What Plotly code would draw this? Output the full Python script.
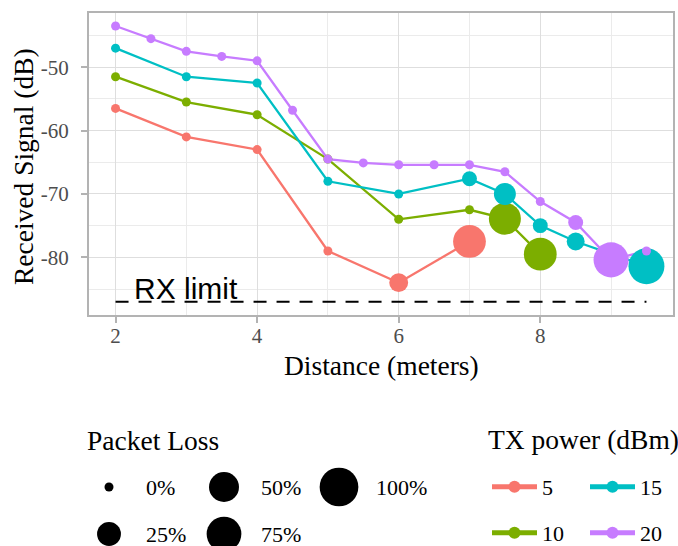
import numpy as np
import plotly.graph_objects as go

# ---------------- data ----------------
TX_LEVELS = ["5", "10", "15", "20"]
TX_COLORS = ["#F8766D", "#7CAE00", "#00BFC4", "#C77CFF"]

dist_5 = [2, 3, 4, 5, 6, 7]
sig_5 = [-56.5, -61, -63, -79, -84, -77.5]
loss_5 = [0, 0, 0, 0, 11, 64]

dist_10 = [2, 3, 4, 5, 6, 7, 7.5, 8]
sig_10 = [-51.5, -55.5, -57.5, -64.5, -74, -72.5, -73.9, -79.5]
loss_10 = [0, 0, 0, 0, 0, 0, 60, 64]

dist_15 = [2, 3, 4, 5, 6, 7, 7.5, 8, 8.5, 9.5]
sig_15 = [-47, -51.5, -52.5, -68, -70, -67.6, -70, -75, -77.5, -81.4]
loss_15 = [0, 0, 0, 0, 0, 4, 19, 4, 9, 82]

dist_20 = [2, 2.5, 3, 3.5, 4, 4.5, 5, 5.5, 6, 6.5, 7, 7.5, 8, 8.5, 9, 9.5]
sig_20 = [-43.5, -45.5, -47.5, -48.3, -49, -56.8, -64.5, -65.1, -65.4, -65.4,
          -65.4, -66.5, -71.2, -74.5, -80.4, -79]
loss_20 = [0, 0, 0, 0, 0, 0, 0, 0, 0, 0, 0, 0, 0, 4, 77, 0]

SERIES = [
    (dist_5, sig_5, loss_5),
    (dist_10, sig_10, loss_10),
    (dist_15, sig_15, loss_15),
    (dist_20, sig_20, loss_20),
]

LOSS_LEVELS = [0, 25, 50, 75, 100]
LOSS_LABELS = ["0%", "25%", "50%", "75%", "100%"]

RX_LIMIT = -87
RX_X = [2, 9.5]
RX_LABEL = "RX limit"
RX_LABEL_X = 3

X_TICKS = [2, 4, 6, 8]
X_TICK_LABELS = ["2", "4", "6", "8"]
Y_TICKS = [-80, -70, -60, -50]
Y_TICK_LABELS = ["-80", "-70", "-60", "-50"]

X_TITLE = "Distance (meters)"
Y_TITLE = "Received Signal (dB)"
SIZE_TITLE = "Packet Loss"
COLOR_TITLE = "TX power (dBm)"

# ---------------- layout constants ----------------
W, H = 678, 546
ML, MR, MT, MB = 89, 5, 13, 5
PW, PH = W - ML - MR, H - MT - MB
PLOT_BOTTOM_PX = 315
SERIF = "Liberation Serif"
TITLE_SIZE = 27.5
TEXT_SIZE = 22


def size_scale(p):
    # ggplot-like area scale: diameter linear in sqrt(proportion)
    return 9 + 29.7 * np.sqrt(np.asarray(p, dtype=float) / 100.0)


def px2paper_x(px):
    return (px - ML) / PW


def px2paper_y(py):
    return (H - MB - py) / PH


fig = go.Figure()

# RX limit dashed line
fig.add_trace(go.Scatter(
    x=RX_X, y=[RX_LIMIT] * len(RX_X), mode="lines",
    line=dict(color="black", width=2, dash="13px,10px"),
    showlegend=False, hoverinfo="skip"))

# lines (drawn first, like geom_line)
for i, (xs, ys, ls) in enumerate(SERIES):
    fig.add_trace(go.Scatter(
        x=xs, y=ys, mode="lines+markers", name=TX_LEVELS[i],
        line=dict(color=TX_COLORS[i], width=2.3),
        marker=dict(color=TX_COLORS[i], size=1, opacity=1),
        legend="legend" if i in (0, 2) else "legend2",
        showlegend=True))

# points (drawn on top, like geom_point)
for i, (xs, ys, ls) in enumerate(SERIES):
    fig.add_trace(go.Scatter(
        x=xs, y=ys, mode="markers",
        marker=dict(color=TX_COLORS[i], size=size_scale(ls), opacity=1,
                    line=dict(width=0)),
        showlegend=False))

# ---------- packet loss size legend (auxiliary axes in pixel units) ----------
KEY_X0, KEY_COL_STEP = 109, 115
KEY_ROW_Y = [487, 534]
LABEL_OFFSET = 35
key_x = [KEY_X0 + (i // 2) * KEY_COL_STEP for i in range(len(LOSS_LEVELS))]
key_y = [KEY_ROW_Y[i % 2] for i in range(len(LOSS_LEVELS))]
fig.add_trace(go.Scatter(
    x=key_x, y=key_y, xaxis="x2", yaxis="y2", mode="markers",
    marker=dict(color="black", size=size_scale(LOSS_LEVELS), opacity=1,
                line=dict(width=0)),
    cliponaxis=False, showlegend=False, hoverinfo="skip"))

annotations = []
for kx, ky, lab in zip(key_x, key_y, LOSS_LABELS):
    annotations.append(dict(x=px2paper_x(kx + LABEL_OFFSET), y=px2paper_y(ky),
                            xref="paper", yref="paper",
                            text=lab, showarrow=False, xanchor="left", yanchor="middle",
                            font=dict(family=SERIF, size=TEXT_SIZE, color="black")))
annotations.append(dict(x=px2paper_x(85), y=px2paper_y(440), xref="paper", yref="paper",
                        text=SIZE_TITLE, showarrow=False, xanchor="left", yanchor="middle",
                        font=dict(family=SERIF, size=TITLE_SIZE, color="black")))
annotations.append(dict(x=px2paper_x(486), y=px2paper_y(439), xref="paper", yref="paper",
                        text=COLOR_TITLE, showarrow=False, xanchor="left", yanchor="middle",
                        font=dict(family=SERIF, size=TITLE_SIZE, color="black")))
# axis titles
annotations.append(dict(x=px2paper_x(381.5), y=px2paper_y(365), xref="paper", yref="paper",
                        text=X_TITLE, showarrow=False, xanchor="center", yanchor="middle",
                        font=dict(family=SERIF, size=TITLE_SIZE, color="black")))
annotations.append(dict(x=px2paper_x(24), y=px2paper_y(167), xref="paper", yref="paper",
                        text=Y_TITLE, showarrow=False, xanchor="center", yanchor="middle",
                        textangle=-90,
                        font=dict(family=SERIF, size=TITLE_SIZE, color="black")))
annotations.append(dict(x=RX_LABEL_X, y=RX_LIMIT, xref="x", yref="y", text=RX_LABEL,
                        showarrow=False, xanchor="center", yanchor="bottom", yshift=-5,
                        font=dict(family="Liberation Sans", size=30, color="black")))

legend_common = dict(orientation="h", xanchor="left", yanchor="middle",
                     font=dict(family=SERIF, size=TEXT_SIZE, color="black"),
                     bgcolor="rgba(0,0,0,0)", itemsizing="constant",
                     entrywidth=38, entrywidthmode="pixels", itemwidth=45,
                     traceorder="normal")

fig.update_layout(
    width=W, height=H,
    margin=dict(l=ML, r=MR, t=MT, b=MB, autoexpand=False),
    paper_bgcolor="white", plot_bgcolor="white",
    font=dict(family=SERIF, color="black"),
    xaxis=dict(domain=[0, 1], anchor="y", range=[1.625, 9.875], automargin=False,
               tickvals=X_TICKS, ticktext=X_TICK_LABELS,
               ticks="outside", ticklen=6, tickwidth=1.5,
               tickcolor="#B3B3B3", showline=True, mirror=True, linecolor="#B3B3B3",
               linewidth=2, showgrid=True, gridcolor="#DEDEDE", gridwidth=1.4,
               minor=dict(dtick=1, showgrid=True, gridcolor="#EBEBEB", gridwidth=1),
               zeroline=False, ticklabelstandoff=-5,
               tickfont=dict(family=SERIF, size=21, color="#4D4D4D")),
    yaxis=dict(domain=[px2paper_y(PLOT_BOTTOM_PX), 1], anchor="x",
               range=[-89.1, -41.45], automargin=False,
               tickvals=Y_TICKS, ticktext=Y_TICK_LABELS,
               ticks="outside", ticklen=6, tickwidth=1.5,
               tickcolor="#B3B3B3", showline=True, mirror=True, linecolor="#B3B3B3",
               linewidth=2, showgrid=True, gridcolor="#DEDEDE", gridwidth=1.4,
               minor=dict(dtick=5, showgrid=True, gridcolor="#EBEBEB", gridwidth=1),
               zeroline=False, ticklabelstandoff=8,
               tickfont=dict(family=SERIF, size=21, color="#4D4D4D")),
    xaxis2=dict(domain=[0, 1], anchor="y2", range=[ML, W - MR], visible=False,
                fixedrange=True),
    yaxis2=dict(domain=[0, 0.25], anchor="x2", range=[H - MB, H - MB - 0.25 * PH],
                visible=False, fixedrange=True),
    legend=dict(x=px2paper_x(487), y=px2paper_y(487), **legend_common),
    legend2=dict(x=px2paper_x(487), y=px2paper_y(533), **legend_common),
    annotations=annotations,
)

fig.write_html("out.html")
